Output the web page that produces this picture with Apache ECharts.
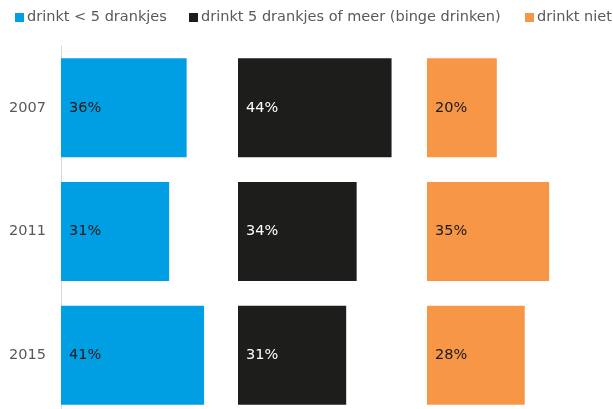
<!DOCTYPE html>
<html>
<head>
<meta charset="utf-8">
<script src="https://cdn.jsdelivr.net/npm/echarts@6/dist/echarts.min.js"></script>
<style>
html, body { margin: 0; padding: 0; background: #fff; }
#chart { width: 613px; height: 409px; }
</style>
</head>
<body>
<div id="chart"></div>
<script>
var years = ['2007', '2011', '2015'];
var seriesNames = ['drinkt < 5 drankjes', 'drinkt 5 drankjes of meer (binge drinken)', 'drinkt niet'];
var lessThan5 = [36, 31, 41];
var binge = [44, 34, 31];
var notDrinking = [20, 35, 28];

var colors = ['#009FE3', '#1D1D1B', '#F79646'];
var labelColors = ['#1a1a1a', '#ffffff', '#1a1a1a'];
var panelLeft = [61, 238, 427];
var legendLeft = [15, 189, 525];
var allData = [lessThan5, binge, notDrinking];
var font = "'DejaVu Sans', Verdana, sans-serif";

var myChart = echarts.init(document.getElementById('chart'));

var grids = [], xAxes = [], yAxes = [], series = [], legends = [];
for (var i = 0; i < 3; i++) {
	grids.push({ left: panelLeft[i], top: 46, width: 349, height: 371, outerBoundsMode: 'none', containLabel: false });
	xAxes.push({ gridIndex: i, type: 'value', min: 0, max: 100, show: false });
	yAxes.push({
		gridIndex: i,
		type: 'category',
		data: years,
		inverse: true,
		axisLine: { show: i == 0, lineStyle: { color: '#d9d9d9', width: 1 } },
		axisTick: { show: false },
		axisLabel: { show: i == 0, color: '#595959', fontSize: 14.5, fontFamily: font, margin: 15 }
	});
	series.push({
		name: seriesNames[i],
		type: 'bar',
		xAxisIndex: i,
		yAxisIndex: i,
		barCategoryGap: '20%',
		itemStyle: { color: colors[i] },
		label: {
			show: true,
			position: 'insideLeft',
			distance: 8,
			color: labelColors[i],
			fontSize: 14.5,
			fontFamily: font,
			formatter: '{c}%'
		},
		data: allData[i]
	});
	legends.push({
		top: 10,
		left: legendLeft[i],
		padding: 0,
		itemWidth: 9,
		itemHeight: 9,
		icon: 'rect',
		selectedMode: false,
		textStyle: { color: '#595959', fontSize: 14.5, fontFamily: font, padding: [0, 0, 0, -2] },
		data: [seriesNames[i]]
	});
}

var option = {
	animation: false,
	legend: legends,
	grid: grids,
	xAxis: xAxes,
	yAxis: yAxes,
	series: series
};
myChart.setOption(option);
</script>
</body>
</html>
